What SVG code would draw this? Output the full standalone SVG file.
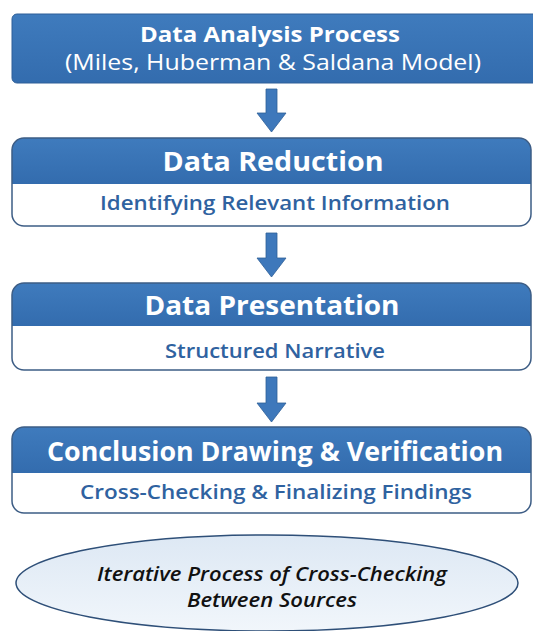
<svg xmlns="http://www.w3.org/2000/svg" width="533" height="631" viewBox="0 0 533 631">
<defs>
<linearGradient id="hdr" x1="0" y1="0" x2="0" y2="1">
<stop offset="0" stop-color="#3f7bbd"/><stop offset="1" stop-color="#336cae"/>
</linearGradient>
<linearGradient id="ell" x1="0" y1="0" x2="0" y2="1">
<stop offset="0" stop-color="#dde8f4"/><stop offset="1" stop-color="#f1f6fb"/>
</linearGradient>
<clipPath id="c2"><rect x="12" y="138" width="519" height="88" rx="12"/></clipPath>
<clipPath id="c3"><rect x="12" y="283" width="519" height="87" rx="12"/></clipPath>
<clipPath id="c4"><rect x="12" y="427" width="519" height="86" rx="12"/></clipPath>
</defs>
<style>
.t{font-family:"Open Sans","Noto Sans","Liberation Sans",sans-serif;text-anchor:middle}
.h{fill:#fff;font-weight:700;font-size:26px}
.s{fill:#2f62a0;font-size:20px;font-weight:600}
.e{font-size:19px;font-style:italic;font-weight:600;fill:#111}
.frame{fill:none;stroke:#3d5d85;stroke-width:1.5}
.arr{fill:#3e78bb;stroke:#2f5f98;stroke-width:0.8}
</style>
<rect width="533" height="631" fill="#fff"/>
<g id="title">
<rect x="12" y="14" width="530" height="69" rx="5" fill="url(#hdr)" stroke="#2f5f98" stroke-width="1"/>
<text class="t" x="270" y="42" font-size="22" font-weight="700" fill="#fff" textLength="260" lengthAdjust="spacingAndGlyphs">Data Analysis Process</text>
<text class="t" x="273" y="70" font-size="21" fill="#fff" textLength="416" lengthAdjust="spacingAndGlyphs">(Miles, Huberman &amp; Saldana Model)</text>
</g>
<g id="connectors">
<path class="arr" d="M266 89 H277 V113 H286 L271.5 132 L257 113 H266 Z"/>
<path class="arr" d="M266 233 H277 V258 H286 L271.5 277 L257 258 H266 Z"/>
<path class="arr" d="M266 377 H277 V403 H286 L271.5 422 L257 403 H266 Z"/>
</g>
<g id="reduction">
<g clip-path="url(#c2)"><rect x="12" y="138" width="519" height="88" fill="#fff"/><rect x="12" y="138" width="519" height="46" fill="url(#hdr)"/></g>
<rect class="frame" x="12" y="138" width="519" height="88" rx="12"/>
<text class="t h" x="273" y="171" textLength="221" lengthAdjust="spacingAndGlyphs">Data Reduction</text>
<text class="t s" x="275" y="210" textLength="350" lengthAdjust="spacingAndGlyphs">Identifying Relevant Information</text>
</g>
<g id="presentation">
<g clip-path="url(#c3)"><rect x="12" y="283" width="519" height="87" fill="#fff"/><rect x="12" y="283" width="519" height="43" fill="url(#hdr)"/></g>
<rect class="frame" x="12" y="283" width="519" height="87" rx="12"/>
<text class="t h" x="272" y="315" textLength="255" lengthAdjust="spacingAndGlyphs">Data Presentation</text>
<text class="t s" x="275" y="358" textLength="220" lengthAdjust="spacingAndGlyphs">Structured Narrative</text>
</g>
<g id="conclusion">
<g clip-path="url(#c4)"><rect x="12" y="427" width="519" height="86" fill="#fff"/><rect x="12" y="427" width="519" height="46" fill="url(#hdr)"/></g>
<rect class="frame" x="12" y="427" width="519" height="86" rx="12"/>
<text class="t h" x="275" y="461" textLength="456" lengthAdjust="spacingAndGlyphs">Conclusion Drawing &amp; Verification</text>
<text class="t s" x="276" y="499" textLength="392" lengthAdjust="spacingAndGlyphs">Cross-Checking &amp; Finalizing Findings</text>
</g>
<g id="iterative">
<ellipse cx="267" cy="583" rx="251" ry="48" fill="url(#ell)" stroke="#2e4f78" stroke-width="1.5"/>
<text class="t e" x="272" y="581" textLength="350" lengthAdjust="spacingAndGlyphs">Iterative Process of Cross-Checking</text>
<text class="t e" x="272" y="607" textLength="170" lengthAdjust="spacingAndGlyphs">Between Sources</text>
</g>
</svg>
